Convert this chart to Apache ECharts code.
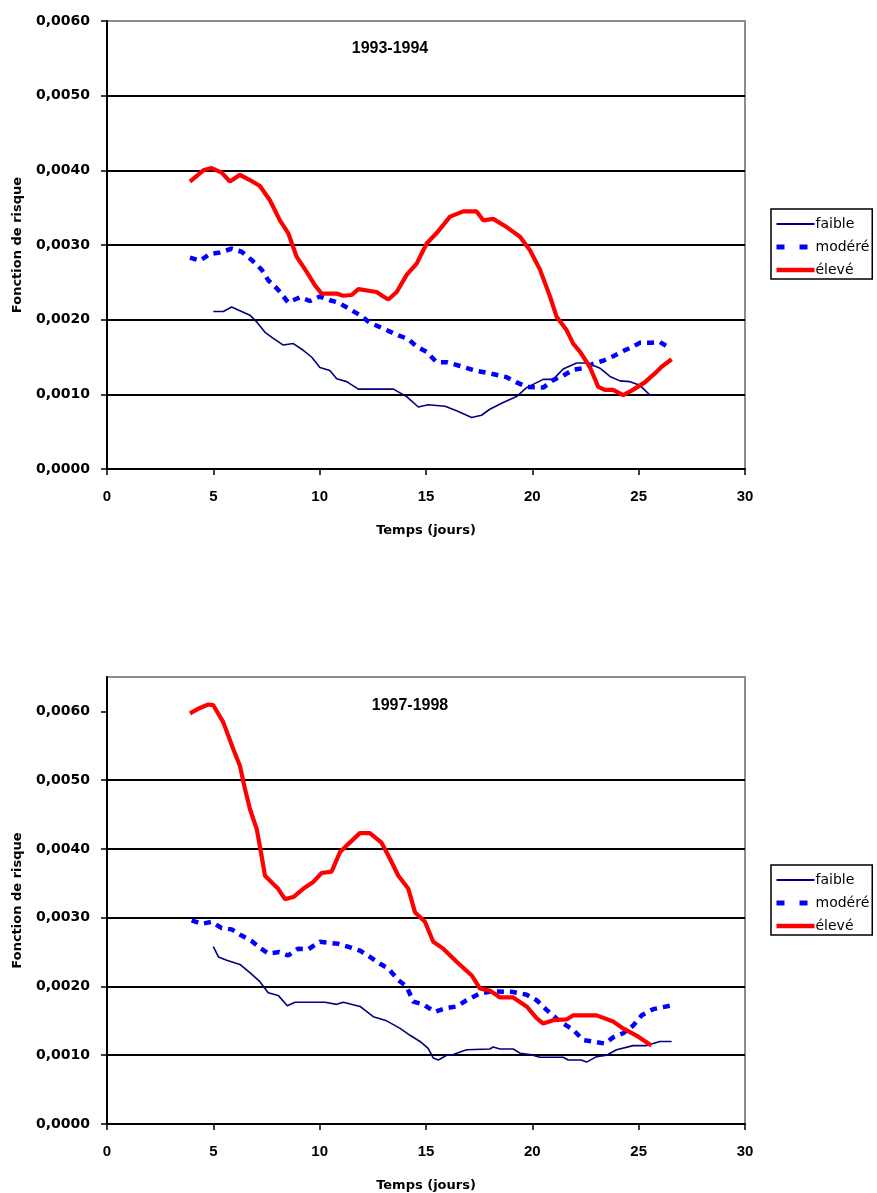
<!DOCTYPE html>
<html>
<head>
<meta charset="utf-8">
<script src="https://cdn.jsdelivr.net/npm/echarts@6/dist/echarts.min.js"></script>
<style>
  html, body { margin: 0; padding: 0; background: #fff; }
  #main { width: 877px; height: 1193px; }
</style>
</head>
<body>
<div id="main"></div>
<script>
var seriesNames = ['faible', 'modéré', 'élevé'];
var periods = ['1993-1994', '1997-1998'];
var xTicks = [0, 5, 10, 15, 20, 25, 30];
var yTicks = [0, 0.001, 0.002, 0.003, 0.004, 0.005, 0.006];

// 1993-1994 : [temps (jours), fonction de risque]
var faible9394 = [[5.0,0.00211],[5.47,0.00211],[5.86,0.00217],[6.25,0.00212],[6.72,0.00206],[7.04,0.00197],[7.43,0.00183],[7.82,0.00175],[8.29,0.00166],[8.76,0.00168],[9.23,0.00159],[9.62,0.00150],[10.01,0.00136],[10.48,0.00132],[10.8,0.00121],[11.27,0.00117],[11.82,0.00107],[13.47,0.00107],[14.09,0.00097],[14.64,0.00083],[15.1,0.00086],[15.89,0.00084],[16.44,0.00078],[17.15,0.00069],[17.61,0.00072],[18.0,0.00080],[18.63,0.00089],[19.26,0.00097],[19.73,0.00109],[20.51,0.00120],[20.98,0.00120],[21.45,0.00134],[22.08,0.00142],[22.55,0.00142],[23.02,0.00137],[23.18,0.00135],[23.65,0.00124],[24.12,0.00118],[24.59,0.00117],[25.06,0.00112],[25.53,0.00099],[25.6,0.00099]];
var modere9394 = [[3.9,0.00283],[4.37,0.00279],[4.84,0.00288],[5.31,0.00290],[5.86,0.00295],[6.33,0.00291],[6.8,0.00280],[7.27,0.00267],[7.58,0.00253],[8.05,0.00240],[8.52,0.00223],[9.07,0.00230],[9.54,0.00225],[10.01,0.00231],[10.48,0.00226],[10.87,0.00223],[11.42,0.00214],[11.9,0.00206],[12.36,0.00196],[12.99,0.00188],[13.7,0.00179],[14.17,0.00174],[14.56,0.00164],[15.03,0.00157],[15.5,0.00143],[15.97,0.00143],[16.6,0.00138],[17.3,0.00132],[18.0,0.00128],[18.79,0.00123],[19.26,0.00116],[19.73,0.00110],[20.51,0.00109],[20.98,0.00119],[21.45,0.00125],[21.92,0.00133],[22.39,0.00135],[22.86,0.00141],[23.33,0.00145],[23.8,0.00151],[24.27,0.00158],[24.74,0.00164],[25.06,0.00169],[25.6,0.00169],[26.0,0.00170],[26.47,0.00162]];
var eleve9394 = [[3.9,0.00385],[4.53,0.00400],[4.92,0.00403],[5.39,0.00397],[5.78,0.00385],[6.25,0.00394],[6.72,0.00387],[7.19,0.00379],[7.66,0.00360],[8.13,0.00333],[8.52,0.00316],[8.92,0.00284],[9.39,0.00264],[9.78,0.00246],[10.09,0.00235],[10.8,0.00235],[11.1,0.00232],[11.5,0.00233],[11.82,0.00241],[12.68,0.00237],[12.99,0.00231],[13.23,0.00227],[13.62,0.00237],[14.09,0.00260],[14.56,0.00275],[15.03,0.00302],[15.5,0.00316],[16.13,0.00338],[16.75,0.00345],[17.38,0.00345],[17.69,0.00333],[18.16,0.00335],[18.79,0.00324],[19.42,0.00311],[19.89,0.00293],[20.36,0.00267],[20.83,0.00231],[21.14,0.00204],[21.61,0.00186],[21.92,0.00168],[22.24,0.00157],[22.7,0.00137],[23.1,0.00110],[23.41,0.00106],[23.8,0.00106],[24.27,0.00099],[24.67,0.00105],[25.29,0.00116],[25.76,0.00128],[26.08,0.00137],[26.55,0.00147]];

// 1997-1998
var faible9798 = [[5.0,0.00258],[5.24,0.00243],[5.63,0.00238],[6.25,0.00232],[6.72,0.00220],[7.19,0.00207],[7.58,0.00191],[8.05,0.00187],[8.48,0.00172],[8.84,0.00177],[10.25,0.00177],[10.8,0.00174],[11.11,0.00177],[11.9,0.00171],[12.52,0.00156],[13.15,0.00150],[13.78,0.00139],[14.25,0.00129],[14.72,0.00120],[15.1,0.00110],[15.34,0.00096],[15.58,0.00093],[15.97,0.00100],[16.28,0.00101],[16.91,0.00108],[18.0,0.00109],[18.16,0.00112],[18.48,0.00109],[19.1,0.00109],[19.42,0.00103],[19.89,0.00101],[20.36,0.00097],[21.45,0.00097],[21.69,0.00093],[22.3,0.00093],[22.55,0.00090],[23.02,0.00098],[23.49,0.00100],[23.96,0.00108],[24.74,0.00114],[25.37,0.00114],[26.0,0.00120],[26.55,0.00120]];
var modere9798 = [[3.98,0.00296],[4.45,0.00291],[4.92,0.00294],[5.39,0.00285],[5.86,0.00283],[6.33,0.00274],[6.8,0.00266],[7.19,0.00256],[7.58,0.00248],[8.1,0.00250],[8.52,0.00245],[8.99,0.00255],[9.46,0.00254],[10.01,0.00265],[10.87,0.00262],[11.42,0.00257],[11.9,0.00252],[12.36,0.00243],[12.84,0.00233],[13.23,0.00226],[13.7,0.00209],[14.09,0.00200],[14.4,0.00178],[14.87,0.00174],[15.42,0.00163],[15.89,0.00168],[16.44,0.00171],[16.91,0.00180],[17.54,0.00190],[18.16,0.00193],[19.1,0.00192],[19.73,0.00188],[20.2,0.00180],[20.67,0.00166],[21.3,0.00149],[21.92,0.00137],[22.39,0.00122],[23.02,0.00119],[23.41,0.00117],[23.8,0.00126],[24.27,0.00132],[24.74,0.00143],[25.14,0.00158],[25.68,0.00167],[26.47,0.00172]];
var eleve9798 = [[3.9,0.00597],[4.37,0.00605],[4.76,0.00610],[5.0,0.00609],[5.47,0.00584],[5.94,0.00545],[6.25,0.00521],[6.49,0.00487],[6.72,0.00458],[7.04,0.00429],[7.27,0.00390],[7.43,0.00361],[7.82,0.00349],[8.05,0.00342],[8.37,0.00327],[8.76,0.00330],[9.31,0.00344],[9.7,0.00352],[10.09,0.00365],[10.56,0.00367],[10.95,0.00395],[11.34,0.00407],[11.89,0.00423],[12.36,0.00423],[12.91,0.00409],[13.3,0.00386],[13.7,0.00361],[14.17,0.00342],[14.48,0.00308],[14.95,0.00294],[15.34,0.00265],[15.81,0.00255],[16.44,0.00236],[17.15,0.00216],[17.54,0.00197],[18.0,0.00194],[18.48,0.00184],[19.1,0.00184],[19.73,0.00171],[20.2,0.00154],[20.51,0.00146],[20.98,0.00151],[21.61,0.00152],[21.92,0.00158],[23.02,0.00158],[23.8,0.00149],[24.27,0.00139],[24.98,0.00127],[25.6,0.00114]];

var yMax = [0.006, 0.0065];
var gridTops = [21, 677];
var gridHeights = [448, 449];
var legendTops = [209, 865];
var titlePos = [[385, 36], [405, 693]];

var arial = 'Liberation Sans, Arial, sans-serif';
var dejavu = 'DejaVu Sans, sans-serif';

var lineStyles = {
  'faible': { color: '#000080', width: 1.6, type: 'solid' },
  'modéré': { color: '#0000ff', width: 4.5, type: [7, 6] },
  'élevé': { color: '#ff0000', width: 4.2, type: 'solid' }
};
var legendLineStyles = {
  'faible': { color: '#000080', width: 2, type: 'solid' },
  'modéré': { color: '#0000ff', width: 5, type: [8, 15] },
  'élevé': { color: '#ff0000', width: 4.5, type: 'solid' }
};

function fmtY(v) {
  if (v > 0.00605) return '';
  return v.toFixed(4).replace('.', ',');
}

var chart = echarts.init(document.getElementById('main'), null, { renderer: 'canvas' });

var grids = [], xAxes = [], yAxes = [], titles = [], legends = [];
for (var i = 0; i < 2; i++) {
  grids.push({
    left: 107, top: gridTops[i], width: 638, height: gridHeights[i],
    show: true, borderColor: '#8c8c8c', borderWidth: 2, backgroundColor: '#fff'
  });
  xAxes.push({
    type: 'value', gridIndex: i, min: xTicks[0], max: xTicks[xTicks.length - 1], interval: 5,
    name: 'Temps (jours)', nameLocation: 'middle', nameGap: 55,
    nameTextStyle: { fontFamily: dejavu, fontWeight: 'bold', fontSize: 13, color: '#000' },
    axisLine: { show: true, onZero: false, lineStyle: { color: '#000', width: 2 } },
    axisTick: { show: true, inside: false, length: 6, lineStyle: { color: '#000', width: 1.5 } },
    axisLabel: { margin: 20, fontFamily: arial, fontWeight: 'bold', fontSize: 15, color: '#000' },
    splitLine: { show: false }
  });
  yAxes.push({
    type: 'value', gridIndex: i, min: 0, max: yMax[i], interval: 0.001,
    name: 'Fonction de risque', nameLocation: 'middle', nameGap: 83,
    nameTextStyle: { fontFamily: dejavu, fontWeight: 'bold', fontSize: 13, color: '#000' },
    axisLine: { show: true, onZero: false, lineStyle: { color: '#000', width: 2 } },
    axisTick: { show: true, inside: false, length: 6, customValues: yTicks, lineStyle: { color: '#000', width: 1.5 } },
    axisLabel: { margin: 17, formatter: fmtY, fontFamily: dejavu, fontWeight: 'bold', fontSize: 14, color: '#000' },
    splitLine: { show: true, showMaxLine: false, lineStyle: { color: '#000', width: 2 } }
  });
  titles.push({
    text: periods[i], left: titlePos[i][0], top: titlePos[i][1], textAlign: 'center',
    textStyle: { fontFamily: arial, fontWeight: 'bold', fontSize: 16, color: '#000' }
  });
  legends.push({
    data: seriesNames.map(function (n) {
      return { name: n, lineStyle: legendLineStyles[n] };
    }),
    orient: 'vertical', left: 771, top: legendTops[i],
    itemWidth: 38, itemHeight: 14, itemGap: 9, padding: [8, 3, 2, 3],
    borderColor: '#000', borderWidth: 1.5, selectedMode: false,
    itemStyle: { opacity: 0 },
    textStyle: { fontFamily: dejavu, fontSize: 14, color: '#000', padding: [0, 0, 0, -4] }
  });
}

function mk(name, data, idx) {
  var style = lineStyles[name];
  return {
    name: name, type: 'line', xAxisIndex: idx, yAxisIndex: idx,
    data: data, symbol: 'none', showSymbol: false, smooth: false,
    itemStyle: { color: style.color },
    lineStyle: style,
    emphasis: { disabled: true }, animation: false
  };
}

var option = {
  backgroundColor: '#fff',
  animation: false,
  title: titles,
  legend: legends,
  grid: grids,
  xAxis: xAxes,
  yAxis: yAxes,
  series: [
    mk('faible', faible9394, 0),
    mk('modéré', modere9394, 0),
    mk('élevé', eleve9394, 0),
    mk('faible', faible9798, 1),
    mk('modéré', modere9798, 1),
    mk('élevé', eleve9798, 1)
  ]
};
chart.setOption(option);
</script>
</body>
</html>
